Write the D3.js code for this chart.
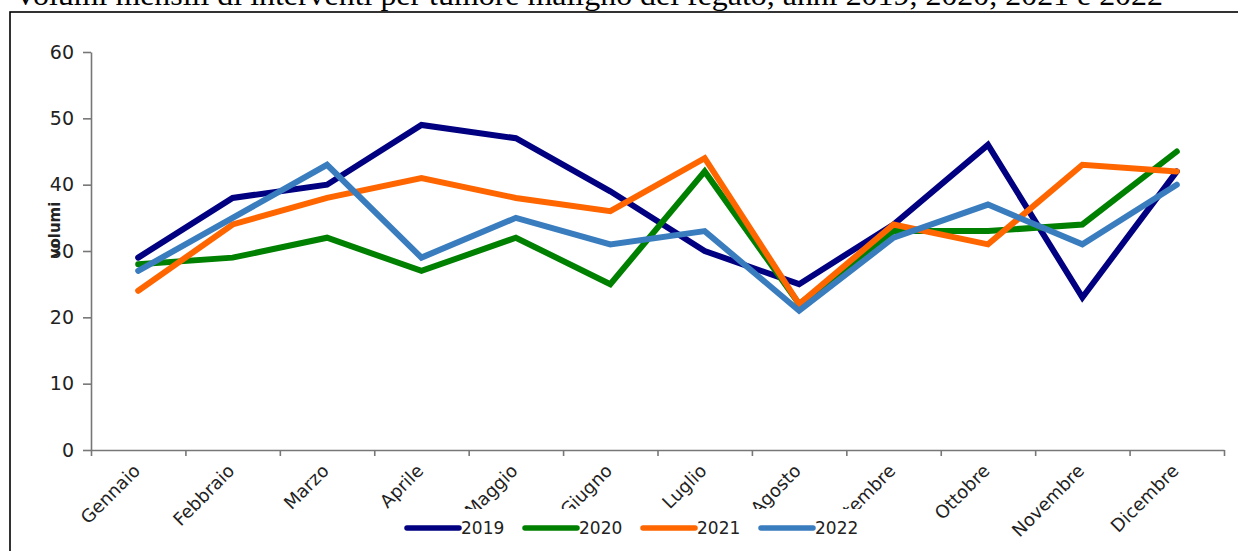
<!DOCTYPE html>
<html>
<head>
<meta charset="utf-8">
<script src="https://cdn.jsdelivr.net/npm/d3@7"></script>
<style>
  html, body { margin: 0; padding: 0; background: #fff; }
  svg { display: block; }
</style>
</head>
<body>
<div id="chart"></div>
<script>
var months = ["Gennaio", "Febbraio", "Marzo", "Aprile", "Maggio", "Giugno",
  "Luglio", "Agosto", "Settembre", "Ottobre", "Novembre", "Dicembre"];
var years = ["2019", "2020", "2021", "2022"];
var v2019 = [29, 38, 40, 49, 47, 39, 30, 25, 34, 46, 23, 42];
var v2020 = [28, 29, 32, 27, 32, 25, 42, 22, 33, 33, 34, 45];
var v2021 = [24, 34, 38, 41, 38, 36, 44, 22, 34, 31, 43, 42];
var v2022 = [27, 35, 43, 29, 35, 31, 33, 21, 32, 37, 31, 40];
var yTicks = [0, 10, 20, 30, 40, 50, 60];
var colors = ["#000080", "#008000", "#ff6600", "#3a7dbf"];

var series = [v2019, v2020, v2021, v2022].map(function (vals, i) {
  return { name: years[i], color: colors[i], values: vals };
});

var W = 1238, H = 551;
var svg = d3.select("#chart").append("svg")
  .attr("width", W).attr("height", H);

// title, mostly cut off at the top of the crop
svg.append("text")
  .attr("x", 14).attr("y", 5)
  .attr("font-family", "'Liberation Serif', 'Times New Roman', serif")
  .attr("font-size", 30)
  .attr("textLength", 1149)
  .attr("lengthAdjust", "spacingAndGlyphs")
  .attr("fill", "#000")
  .text("Volumi mensili di interventi per tumore maligno del fegato, anni 2019, 2020, 2021 e 2022");

svg.append("rect")
  .attr("x", 10).attr("y", 12)
  .attr("width", 1260).attr("height", 600)
  .attr("fill", "none").attr("stroke", "#000").attr("stroke-width", 1.6);

var x0 = 91, x1 = 1224, y0 = 450, y1 = 52;
var x = d3.scaleBand().domain(months).range([x0, x1]).padding(0);
var xEdge = d3.scaleLinear().domain([0, months.length]).range([x0, x1]);
var y = d3.scaleLinear().domain([0, 60]).range([y0, y1]);

var font = "'DejaVu Sans', Arial, sans-serif";

var yAxis = svg.append("g")
  .attr("transform", "translate(" + x0 + ",0)")
  .call(d3.axisLeft(y).tickValues(yTicks).tickSize(8).tickSizeOuter(0).tickPadding(9));
yAxis.selectAll("text")
  .attr("font-family", font).attr("font-size", 19).attr("fill", "#222");

var xAxis = svg.append("g")
  .attr("transform", "translate(0," + y0 + ")")
  .call(d3.axisBottom(xEdge).tickValues(d3.range(months.length + 1))
    .tickFormat("").tickSize(6).tickSizeOuter(0));

svg.selectAll(".domain, .tick line")
  .attr("stroke", "#777").attr("stroke-width", 1.6);

svg.append("text")
  .attr("transform", "translate(60,230) rotate(-90)")
  .attr("text-anchor", "middle")
  .attr("font-family", font).attr("font-size", 15).attr("font-weight", "bold")
  .attr("fill", "#222")
  .text("volumi");

svg.append("g").selectAll("text")
  .data(months).enter().append("text")
  .attr("transform", function (d) {
    return "translate(" + (x(d) + x.bandwidth() / 2 + 3) + ",472) rotate(-45)";
  })
  .attr("text-anchor", "end")
  .attr("font-family", font).attr("font-size", 18)
  .attr("fill", "#222")
  .text(function (d) { return d; });

var line = d3.line()
  .x(function (d, i) { return x(months[i]) + x.bandwidth() / 2; })
  .y(function (d) { return y(d); });

svg.append("g").selectAll("path")
  .data(series).enter().append("path")
  .attr("d", function (s) { return line(s.values); })
  .attr("fill", "none")
  .attr("stroke", function (s) { return s.color; })
  .attr("stroke-width", 6)
  .attr("stroke-linejoin", "miter")
  .attr("stroke-linecap", "round");

// legend box covers the bottom of some month labels
var legend = svg.append("g");
legend.append("rect")
  .attr("x", 398).attr("y", 509)
  .attr("width", 472).attr("height", 38)
  .attr("fill", "#fff");

var item = legend.selectAll("g.item")
  .data(series).enter().append("g")
  .attr("class", "item")
  .attr("transform", function (s, i) { return "translate(" + (407 + i * 118) + ",528)"; });
item.append("line")
  .attr("x1", 0).attr("x2", 52).attr("y1", 0).attr("y2", 0)
  .attr("stroke", function (s) { return s.color; })
  .attr("stroke-width", 5.5)
  .attr("stroke-linecap", "round");
item.append("text")
  .attr("x", 54).attr("y", 6)
  .attr("font-family", font).attr("font-size", 17)
  .attr("fill", "#222")
  .text(function (s) { return s.name; });
</script>
</body>
</html>
